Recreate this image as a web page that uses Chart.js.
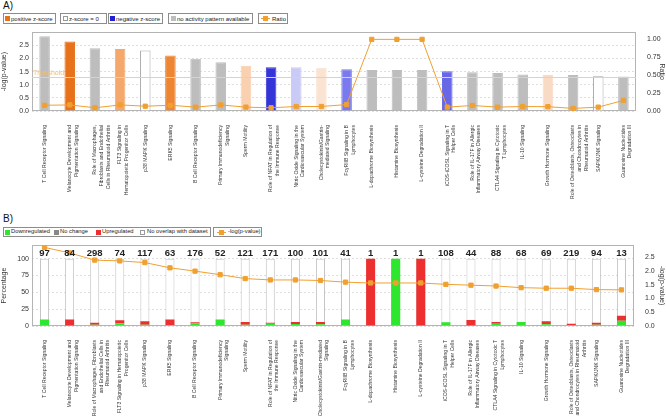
<!DOCTYPE html>
<html>
<head>
<meta charset="utf-8">
<script src="https://cdn.jsdelivr.net/npm/chart.js@4.4.0/dist/chart.umd.min.js"></script>
<style>
    body { margin: 0; width: 666px; height: 416px; background: #fff; position: relative; overflow: hidden; font-family: "Liberation Sans", Arial, sans-serif; }
    .panel { position: absolute; left: 3px; font-size: 10px; color: #111; }
    .box { position: absolute; border: 1px solid #8c8c8c; box-sizing: border-box; }
    .sw { position: absolute; width: 5px; height: 5px; box-sizing: border-box; }
    .tx { position: absolute; white-space: nowrap; color: #222; line-height: 1; }
    .ln { position: absolute; width: 9px; height: 5px; }
    .ln:before { content: ""; position: absolute; left: 0; right: 0; top: 2px; height: 1px; background: #f0a030; }
    .ln:after { content: ""; position: absolute; left: 2px; top: 0; width: 5px; height: 5px; background: #f0a030; }
    .la .tx { font-size: 6px; top: 15.5px; }
    .la .sw, .la .ln { top: 16px; }
    .lb .tx { font-size: 5.8px; top: 229px; }
    .lb .sw, .lb .ln { top: 229.5px; }
    canvas { position: absolute; left: 0; }
</style>
</head>
<body>
<div class="panel" style="top:0px">A)</div>
<div class="la">
    <div class="box" style="left:3px;top:13px;width:53px;height:11px"></div>
    <div class="sw" style="left:5px;background:#e8721c"></div><div class="tx" style="left:11px">positive z-score</div>
    <div class="box" style="left:60px;top:13px;width:47px;height:11px"></div>
    <div class="sw" style="left:63px;background:#fff;border:1px solid #999"></div><div class="tx" style="left:69px">z-score = 0</div>
    <div class="box" style="left:108px;top:13px;width:55px;height:11px"></div>
    <div class="sw" style="left:110px;background:#2020d0"></div><div class="tx" style="left:116px">negative z-score</div>
    <div class="box" style="left:168px;top:13px;width:85px;height:11px"></div>
    <div class="sw" style="left:171px;background:#bdbdbd"></div><div class="tx" style="left:177px">no activity pattern available</div>
    <div class="box" style="left:258px;top:13px;width:30px;height:11px"></div>
    <div class="ln" style="left:261px"></div><div class="tx" style="left:272px">Ratio</div>
</div>
<canvas id="chartA" width="666" height="175" style="top:25px"></canvas>

<div class="panel" style="top:213px">B)</div>
<div class="lb">
    <div class="box" style="left:3px;top:227px;width:208px;height:10px"></div>
    <div class="sw" style="left:5px;background:#2ee62e"></div><div class="tx" style="left:11px">Downregulated</div>
    <div class="sw" style="left:54px;background:#888"></div><div class="tx" style="left:60px">No change</div>
    <div class="sw" style="left:96px;background:#ee2f2f"></div><div class="tx" style="left:102px">Upregulated</div>
    <div class="sw" style="left:140px;background:#fff;border:1px solid #999"></div><div class="tx" style="left:147px">No overlap with dataset</div>
    <div class="box" style="left:213px;top:227px;width:49px;height:10px"></div>
    <div class="ln" style="left:217px"></div><div class="tx" style="left:228px">-log(p-value)</div>
</div>
<canvas id="chartB" width="666" height="178" style="top:238px"></canvas>

<script>
(function () {
    "use strict";

    // pathway names as wrapped in panel A
    var pathwaysA = [
        "T Cell Receptor Signaling",
        ["Melanocyte Development and", "Pigmentation Signaling"],
        ["Role of Macrophages,", "Fibroblasts and Endothelial", "Cells in Rheumatoid Arthritis"],
        ["FLT3 Signaling in", "Hematopoietic Progenitor Cells"],
        "p38 MAPK Signaling",
        "ERK5 Signaling",
        "B Cell Receptor Signaling",
        ["Primary Immunodeficiency", "Signaling"],
        "Sperm Motility",
        ["Role of NFAT in Regulation of", "the Immune Response"],
        ["Nitric Oxide Signaling in the", "Cardiovascular System"],
        ["Cholecystokinin/Gastrin-", "mediated Signaling"],
        ["Fc\u03b3RIIB Signaling in B", "Lymphocytes"],
        "L-dopachrome Biosynthesis",
        "Histamine Biosynthesis",
        "L-cysteine Degradation II",
        ["iCOS-iCOSL Signaling in T", "Helper Cells"],
        ["Role of IL-17F in Allergic", "Inflammatory Airway Diseases"],
        ["CTLA4 Signaling in Cytotoxic", "T Lymphocytes"],
        "IL-10 Signaling",
        "Growth Hormone Signaling",
        ["Role of Osteoblasts, Osteoclasts", "and Chondrocytes in", "Rheumatoid Arthritis"],
        "SAPK/JNK Signaling",
        ["Guanosine Nucleotides", "Degradation III"]
    ];

    // same pathways, wrapped as in panel B
    var pathwaysB = [
        "T Cell Receptor Signaling",
        ["Melanocyte Development and", "Pigmentation Signaling"],
        ["Role of Macrophages, Fibroblasts", "and Endothelial Cells in", "Rheumatoid Arthritis"],
        ["FLT3 Signaling in Hematopoietic", "Progenitor Cells"],
        "p38 MAPK Signaling",
        "ERK5 Signaling",
        "B Cell Receptor Signaling",
        ["Primary Immunodeficiency", "Signaling"],
        "Sperm Motility",
        ["Role of NFAT in Regulation of", "the Immune Response"],
        ["Nitric Oxide Signaling in the", "Cardiovascular System"],
        ["Cholecystokinin/Gastrin-mediated", "Signaling"],
        ["Fc\u03b3RIIB Signaling in B", "Lymphocytes"],
        "L-dopachrome Biosynthesis",
        "Histamine Biosynthesis",
        "L-cysteine Degradation II",
        ["iCOS-iCOSL Signaling in T", "Helper Cells"],
        ["Role of IL-17F in Allergic", "Inflammatory Airway Diseases"],
        ["CTLA4 Signaling in Cytotoxic T", "Lymphocytes"],
        "IL-10 Signaling",
        "Growth Hormone Signaling",
        ["Role of Osteoblasts, Osteoclasts", "and Chondrocytes in Rheumatoid", "Arthritis"],
        "SAPK/JNK Signaling",
        ["Guanosine Nucleotides", "Degradation III"]
    ];

    var logP = [2.85, 2.65, 2.39, 2.36, 2.30, 2.11, 1.99, 1.86, 1.72, 1.67, 1.67, 1.65,
                1.59, 1.56, 1.56, 1.56, 1.51, 1.48, 1.45, 1.39, 1.37, 1.37, 1.32, 1.31];
    var ratio = [0.08, 0.085, 0.045, 0.085, 0.067, 0.08, 0.054, 0.085, 0.054, 0.045, 0.063, 0.063,
                 0.09, 1.0, 1.0, 1.0, 0.054, 0.077, 0.054, 0.063, 0.06, 0.036, 0.054, 0.148];
    var threshold = 1.3;

    var moleculeCounts = [97, 84, 298, 74, 117, 63, 176, 52, 121, 171, 100, 101,
                          41, 1, 1, 1, 108, 44, 88, 68, 69, 219, 94, 13];
    var downPct = [9.6, 0, 2, 4, 2, 1.5, 4, 9.6, 2, 3.5, 3, 2.5,
                   9.5, 0, 100, 0, 5.5, 0, 3.5, 6, 2.5, 1.5, 2, 7.7];
    var noChangePct = [0, 0, 0, 0, 0, 0, 0, 0, 0, 0, 0, 0,
                       0, 0, 0, 0, 0, 0, 0, 0, 0, 0, 0, 0];
    var upPct = [0, 9.5, 3, 4.5, 5, 8, 1.5, 0, 4, 1.5, 3, 3.5,
                 0, 100, 0, 100, 0, 9, 2.5, 0, 4.5, 2, 3, 7.7];
    var fullPct = 100;

    var ticksLogP = [0, 0.5, 1.0, 1.5, 2.0, 2.5];
    var ticksRatio = [0, 0.25, 0.5, 0.75, 1.0];
    var ticksPct = [0, 25, 50, 75, 100];

    // z-score shading of panel A bars
    var barColorsA = ["#bdbdbd", "#e8721c", "#bdbdbd", "#f4a86c", "#ffffff", "#ee8533", "#bdbdbd", "#bdbdbd",
                      "#f9d0b0", "#3434d9", "#cacaf6", "#fbe3d2", "#7a7aee", "#bdbdbd", "#bdbdbd", "#bdbdbd",
                      "#6767e8", "#bdbdbd", "#bdbdbd", "#bdbdbd", "#f9dac5", "#bdbdbd", "#ffffff", "#bdbdbd"];
    var barBordersA = barColorsA.map(function (c) { return c === "#ffffff" ? "#a8a8a8" : c; });

    var fontFamily = "'Liberation Sans', Arial, sans-serif";
    var tickFont = { family: fontFamily, size: 7 };
    var labelFont = { family: fontFamily, size: 5.1, lineHeight: 1.3 };
    var orange = "#f0a030";

    function fixTicks(list) {
        return function (scale) {
            scale.ticks = list.map(function (v) { return { value: v }; });
        };
    }
    function fixWidth(w) { return function (scale) { scale.width = w; }; }
    function fixHeight(h) { return function (scale) { scale.height = h; }; }

    var framePlugin = {
        id: "frame",
        beforeDatasetsDraw: function (chart) {
            var a = chart.chartArea, ctx = chart.ctx;
            ctx.save();
            ctx.strokeStyle = "#b4b4b4";
            ctx.lineWidth = 1;
            ctx.strokeRect(Math.round(a.left) + 0.5, Math.round(a.top) + 0.5,
                Math.round(a.right - a.left) - 1, Math.round(a.bottom - a.top) - 1);
            ctx.restore();
        }
    };

    var thresholdPlugin = {
        id: "threshold",
        afterDatasetsDraw: function (chart) {
            var a = chart.chartArea, ctx = chart.ctx;
            var y = Math.round(chart.scales.y.getPixelForValue(threshold)) + 0.5;
            ctx.save();
            ctx.strokeStyle = "#f5cf90";
            ctx.lineWidth = 1;
            ctx.beginPath();
            ctx.moveTo(a.left, y);
            ctx.lineTo(a.right, y);
            ctx.stroke();
            ctx.fillStyle = "#efc07a";
            ctx.font = "7px " + fontFamily;
            ctx.textBaseline = "bottom";
            ctx.fillText("Threshold", a.left + 1, y - 1);
            ctx.restore();
        }
    };

    var countsPlugin = {
        id: "counts",
        afterDatasetsDraw: function (chart) {
            var a = chart.chartArea, ctx = chart.ctx, x = chart.scales.x;
            ctx.save();
            ctx.fillStyle = "#222";
            ctx.font = "bold 9.5px " + fontFamily;
            ctx.textAlign = "center";
            ctx.textBaseline = "middle";
            moleculeCounts.forEach(function (n, i) {
                ctx.fillText(String(n), x.getPixelForValue(i), a.top + 8);
            });
            ctx.restore();
        }
    };

    var ctx = document.getElementById("chartA").getContext("2d");
    var chartA = new Chart(ctx, {
        data: {
            labels: pathwaysA,
            datasets: [
                {
                    type: "line",
                    label: "Ratio",
                    data: ratio,
                    yAxisID: "y1",
                    borderColor: orange,
                    borderWidth: 1,
                    pointStyle: "rect",
                    pointRadius: 3,
                    pointBackgroundColor: orange,
                    pointBorderColor: orange,
                    order: 0
                },
                {
                    type: "bar",
                    label: "-log(p-value)",
                    data: logP,
                    yAxisID: "y",
                    backgroundColor: barColorsA,
                    borderColor: barBordersA,
                    borderWidth: 1,
                    barPercentage: 0.42,
                    categoryPercentage: 1,
                    order: 1
                }
            ]
        },
        options: {
            responsive: false,
            animation: false,
            layout: { padding: { top: 3, left: 0, right: 0, bottom: 0 } },
            plugins: { legend: { display: false }, tooltip: { enabled: false } },
            scales: {
                x: {
                    afterFit: fixHeight(89),
                    grid: { display: false },
                    border: { display: false },
                    ticks: { font: labelFont, color: "#333", autoSkip: false, minRotation: 90, maxRotation: 90, padding: 6 }
                },
                y: {
                    position: "left",
                    min: 0,
                    max: 3.0,
                    afterBuildTicks: fixTicks(ticksLogP),
                    afterFit: fixWidth(32),
                    grid: { color: "#dedede", drawTicks: false },
                    border: { display: false, dash: [2, 2] },
                    title: { display: true, text: "-log(p-value)", font: tickFont, color: "#333", padding: 0 },
                    ticks: { font: tickFont, color: "#333", padding: 3, callback: function (v) { return v.toFixed(1); } }
                },
                y1: {
                    position: "right",
                    min: 0,
                    max: 1.1,
                    afterBuildTicks: fixTicks(ticksRatio),
                    afterFit: fixWidth(30),
                    grid: { display: false },
                    border: { display: false },
                    title: { display: true, text: "Ratio", font: tickFont, color: "#333", padding: 0 },
                    ticks: { font: tickFont, color: "#333", padding: 3, callback: function (v) { return v.toFixed(2); } }
                }
            }
        },
        plugins: [framePlugin, thresholdPlugin]
    });

    var ctx = document.getElementById("chartB").getContext("2d");
    var chartB = new Chart(ctx, {
        data: {
            labels: pathwaysB,
            datasets: [
                {
                    type: "line",
                    label: "-log(p-value)",
                    data: logP,
                    yAxisID: "y1",
                    borderColor: orange,
                    borderWidth: 1,
                    pointStyle: "rect",
                    pointRadius: 3,
                    pointBackgroundColor: orange,
                    pointBorderColor: orange,
                    order: 0
                },
                {
                    type: "bar", label: "Downregulated", data: downPct, stack: "main", grouped: false,
                    backgroundColor: "#2ee62e", barPercentage: 0.36, categoryPercentage: 1, order: 1
                },
                {
                    type: "bar", label: "No change", data: noChangePct, stack: "main", grouped: false,
                    backgroundColor: "#888888", barPercentage: 0.36, categoryPercentage: 1, order: 1
                },
                {
                    type: "bar", label: "Upregulated", data: upPct, stack: "main", grouped: false,
                    backgroundColor: "#ee2f2f", barPercentage: 0.36, categoryPercentage: 1, order: 1
                },
                {
                    type: "bar", label: "No overlap with dataset",
                    data: pathwaysB.map(function () { return fullPct; }),
                    stack: "box", grouped: false,
                    backgroundColor: "#ffffff", borderColor: "#c4c4c4", borderWidth: 1,
                    barPercentage: 0.36, categoryPercentage: 1, order: 2
                }
            ]
        },
        options: {
            responsive: false,
            animation: false,
            layout: { padding: { top: 4, left: 0, right: 0, bottom: 0 } },
            plugins: { legend: { display: false }, tooltip: { enabled: false } },
            scales: {
                x: {
                    stacked: true,
                    afterFit: fixHeight(90),
                    grid: { display: false },
                    border: { display: false },
                    ticks: { font: labelFont, color: "#333", autoSkip: false, minRotation: 90, maxRotation: 90, padding: 6 }
                },
                y: {
                    stacked: true,
                    position: "left",
                    min: 0,
                    max: 120,
                    afterBuildTicks: fixTicks(ticksPct),
                    afterFit: fixWidth(32),
                    grid: { color: "#dedede", drawTicks: false },
                    border: { display: false, dash: [2, 2] },
                    title: { display: true, text: "Percentage", font: tickFont, color: "#333", padding: 0 },
                    ticks: { font: tickFont, color: "#333", padding: 3 }
                },
                y1: {
                    position: "right",
                    min: 0,
                    max: 2.93,
                    afterBuildTicks: fixTicks(ticksLogP),
                    afterFit: fixWidth(32),
                    grid: { display: false },
                    border: { display: false },
                    title: { display: true, text: "-log(p-value)", font: tickFont, color: "#333", padding: 0 },
                    ticks: { font: tickFont, color: "#333", padding: 3, callback: function (v) { return v.toFixed(1); } }
                }
            }
        },
        plugins: [framePlugin, countsPlugin]
    });
})();
</script>
</body>
</html>
